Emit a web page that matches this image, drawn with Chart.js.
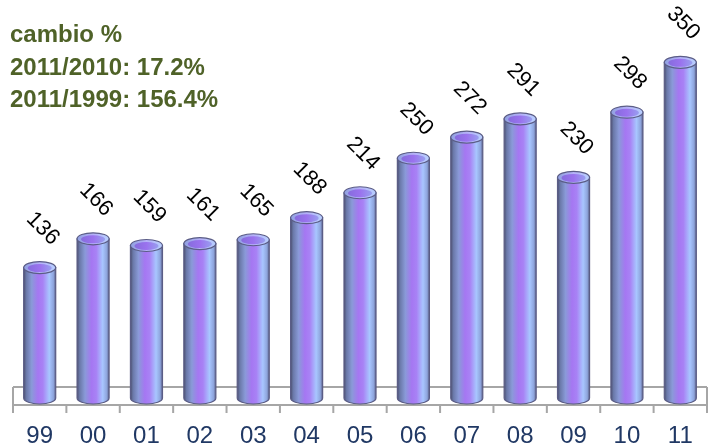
<!DOCTYPE html>
<html>
<head>
<meta charset="utf-8">
<script src="https://cdn.jsdelivr.net/npm/chart.js@4"></script>
<style>
    body { margin: 0; background: #fff; }
    #wrap { position: relative; width: 709px; height: 446px; }
    #note {
        position: absolute; left: 10px; top: 18px;
        font: bold 24px "Liberation Sans", Arial, sans-serif;
        line-height: 32.5px; color: #4f6228;
    }
</style>
</head>
<body>
<div id="wrap">
    <canvas id="chart"></canvas>
    <div id="note">cambio %<br>2011/2010: 17.2%<br>2011/1999: 156.4%</div>
</div>
<script>
const years = ["99", "00", "01", "02", "03", "04", "05", "06", "07", "08", "09", "10", "11"]
const values = [136, 166, 159, 161, 165, 188, 214, 250, 272, 291, 230, 298, 350]

const FONT = '"Liberation Sans", Arial, sans-serif'

function bodyGradient(ctx, x0, x1) {
    const g = ctx.createLinearGradient(x0, 0, x1, 0)
    g.addColorStop(0, '#4c5070')
    g.addColorStop(0.08, '#6a78a8')
    g.addColorStop(0.25, '#8a9ad8')
    g.addColorStop(0.45, '#a577f2')
    g.addColorStop(0.6, '#a882f5')
    g.addColorStop(0.8, '#a8c6ff')
    g.addColorStop(0.93, '#8ea4dc')
    g.addColorStop(1, '#5a6088')
    return g
}

// floor plate + tick marks under the bars
const floorPlugin = {
    id: 'floor',
    beforeDatasetsDraw(chart) {
        const ctx = chart.ctx
        const y0 = chart.scales.y.getPixelForValue(0)
        const left = chart.chartArea.left, right = chart.chartArea.right
        const step = (right - left) / years.length
        ctx.save()
        ctx.strokeStyle = '#a6a6a6'
        ctx.lineWidth = 2
        ctx.beginPath()
        ctx.moveTo(left, y0 - 11)
        ctx.lineTo(right, y0 - 11)
        ctx.moveTo(left, y0 + 7)
        ctx.lineTo(right, y0 + 7)
        ctx.moveTo(left, y0 - 11)
        ctx.lineTo(left, y0 + 7)
        ctx.moveTo(right, y0 - 11)
        ctx.lineTo(right, y0 + 7)
        for (let i = 0; i <= years.length; i++) {
            const x = left + i * step
            ctx.moveTo(x, y0 + 7)
            ctx.lineTo(x, y0 + 15)
        }
        ctx.stroke()
        ctx.restore()
    }
}

// cylinders and rotated value labels
const cylinderPlugin = {
    id: 'cylinder',
    afterDatasetsDraw(chart) {
        const ctx = chart.ctx
        const meta = chart.getDatasetMeta(0)
        meta.data.forEach((bar, i) => {
            const p = bar.getProps(['x', 'y', 'base', 'width'], true)
            const rx = p.width / 2
            const ry = 6
            const x0 = p.x - rx, x1 = p.x + rx
            ctx.save()
            // body
            ctx.beginPath()
            ctx.moveTo(x0, p.y)
            ctx.lineTo(x0, p.base)
            ctx.ellipse(p.x, p.base, rx, ry, 0, Math.PI, 0, true)
            ctx.lineTo(x1, p.y)
            ctx.closePath()
            ctx.fillStyle = bodyGradient(ctx, x0, x1)
            ctx.fill()
            ctx.strokeStyle = '#5b5d86'
            ctx.lineWidth = 1.2
            ctx.stroke()
            // top cap
            ctx.beginPath()
            ctx.ellipse(p.x, p.y, rx, ry, 0, 0, Math.PI * 2)
            const cg = ctx.createLinearGradient(x0, 0, x1, 0)
            cg.addColorStop(0, '#8fa0e0')
            cg.addColorStop(0.5, '#b5b0f8')
            cg.addColorStop(1, '#b8d0ff')
            ctx.fillStyle = cg
            ctx.fill()
            ctx.stroke()
            ctx.beginPath()
            ctx.ellipse(p.x, p.y + 0.5, rx - 4, ry - 2, 0, 0, Math.PI * 2)
            const ig = ctx.createLinearGradient(x0, 0, x1, 0)
            ig.addColorStop(0, '#7f6ad8')
            ig.addColorStop(0.5, '#9a72ee')
            ig.addColorStop(1, '#98aef0')
            ctx.fillStyle = ig
            ctx.fill()
            ctx.restore()

            // value label
            ctx.save()
            ctx.translate(p.x + 3, p.y - 39)
            ctx.rotate(Math.PI / 4)
            ctx.font = '22px ' + FONT
            ctx.fillStyle = '#000'
            ctx.textAlign = 'center'
            ctx.textBaseline = 'middle'
            ctx.fillText(String(values[i]), 0, 0)
            ctx.restore()
        })
    }
}

const ctx = document.getElementById("chart").getContext("2d")

const myChart = new Chart(ctx, {
    type: 'bar',
    data: {
        labels: years,
        datasets: [{
            data: values,
            backgroundColor: 'rgba(0,0,0,0)',
            borderWidth: 0,
            barPercentage: 0.6,
            categoryPercentage: 1
        }]
    },
    options: {
        responsive: true,
        maintainAspectRatio: false,
        animation: false,
        layout: { padding: { left: 13, right: 2, top: 0, bottom: 0 } },
        plugins: {
            legend: { display: false },
            tooltip: { enabled: false }
        },
        scales: {
            x: {
                grid: { display: false, drawTicks: false },
                border: { display: false },
                afterFit(scale) {
                    scale.height = 48
                    scale.paddingLeft = 0
                    scale.paddingRight = 0
                },
                ticks: {
                    color: '#203864',
                    padding: 26,
                    maxRotation: 0,
                    font: { family: FONT, size: 24, lineHeight: 1 }
                }
            },
            y: {
                display: false,
                min: 0,
                max: 415
            }
        }
    },
    plugins: [floorPlugin, cylinderPlugin]
})
</script>
</body>
</html>
